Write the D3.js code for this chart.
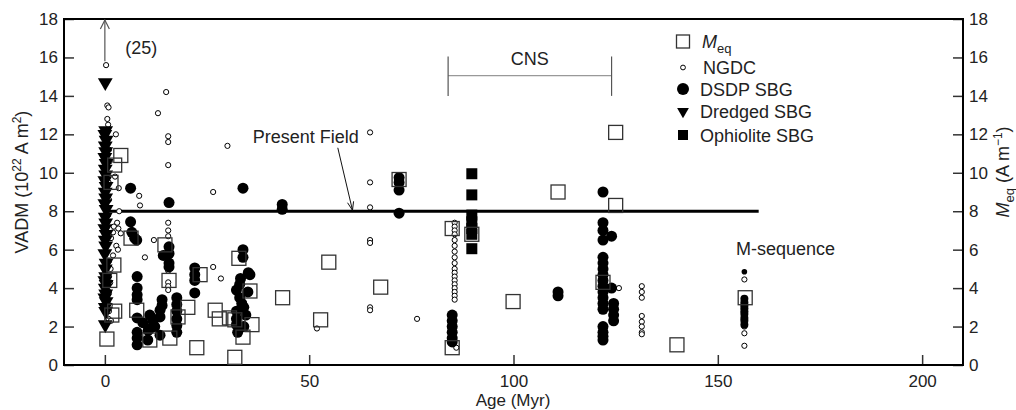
<!DOCTYPE html>
<html>
<head>
<meta charset="utf-8">
<style>
	body { margin: 0; background: #fff; }
	svg { font-family: "Liberation Sans", Arial, sans-serif; }
	.tick text { font-size: 17px; fill: #222; }
	.tick line { stroke: #333; stroke-width: 1.5px; }
</style>
</head>
<body>
<script src="https://cdn.jsdelivr.net/npm/d3@7"></script>
<script>

// Meq squares
var meqAge = [3.9, 2.4, 1.5, 0.5, 2.2, 1.2, 2.4, 1.7, 6.4, 7.8, 11, 14.7, 15.7, 15.9, 17.9, 20.3, 22.5, 23.3, 27, 28,
	32.8, 31.8, 31.8, 35.5, 36, 33.8, 30.5, 43.5, 54.8, 52.8, 67.5, 72, 85, 89.8, 99.9, 110.9, 125, 125, 85, 121.9, 140, 156.7];
var meqVal = [10.9, 10.4, 9.5, 1.35, 5.2, 4.4, 2.8, 2.6, 6.6, 2.85, 1.3, 6.25, 4.4, 1.4, 2.5, 3.0, 0.9, 4.7, 2.85, 2.4,
	5.55, 2.35, 0.4, 3.85, 2.1, 1.45, 2.45, 3.5, 5.35, 2.35, 4.05, 9.65, 7.1, 6.8, 3.3, 9.0, 12.1, 8.3, 0.9, 4.3, 1.05, 3.5];

// NGDC small open circles
var ngdcAge = [0.3, 0.6, 0.9, 0.6, 0.8, 2.7, 1.0, 1.2, 2.5, 0.9, 3.4, 1.0, 3.5, 0.8, 3.0, 2.2, 3.3, 2.0, 3.9, 1.5, 2.8, 3.2,
	2.0, 1.0, 1.4, 1.0, 1.3, 1.0, 0.8, 1.2, 1.0, 0.9, 1.5,
	15.0, 13.0, 15.5, 15.5, 15.5, 30.0, 8.4, 8.6, 26.5, 9.8, 12.0, 26.5, 28.4, 15.5, 15.5, 15.5, 15.5, 15.5, 15.5, 15.5,
	64.9, 64.9, 64.9, 64.9, 64.9, 64.9, 64.9, 76.4, 51.9,
	85.6, 85.6, 85.6, 85.6, 85.6, 85.6, 85.6, 85.6, 85.6, 85.6, 85.6, 85.6, 85.6, 85.6, 85.6, 85.6, 85.6, 85.6, 86.0,
	125.8, 131.4, 131.4, 131.4, 131.4, 131.4, 131.4, 131.4, 131.4,
	156.5, 156.5, 156.5, 156.5, 156.5, 156.5];
var ngdcVal = [15.6, 13.5, 13.4, 12.8, 12.5, 12.0, 11.2, 10.6, 9.8, 9.5, 9.2, 8.6, 8.0, 7.8, 7.4, 7.2, 7.1, 6.9, 6.85, 6.6, 6.2, 6.0,
	5.7, 5.4, 5.0, 4.6, 4.3, 3.8, 3.4, 3.1, 2.8, 2.4, 2.3,
	14.2, 13.1, 11.9, 11.6, 10.4, 11.4, 8.8, 8.3, 9.0, 5.6, 6.5, 5.1, 4.5, 7.4, 7.0, 6.7, 4.9, 4.3, 4.1, 3.9,
	12.1, 9.5, 8.2, 6.5, 6.35, 3.0, 2.85, 2.4, 1.9,
	7.4, 7.2, 7.0, 6.8, 6.5, 6.2, 5.9, 5.6, 5.3, 5.0, 4.8, 4.6, 4.4, 4.2, 4.0, 3.8, 3.6, 3.4, 0.9,
	4.0, 4.1, 3.8, 3.5, 2.55, 2.25, 2.0, 1.7, 1.6,
	4.45, 2.5, 2.2, 2.0, 1.65, 1.0];

// DSDP SBG filled circles
var dsdpAge = [6.3, 15.7, 33.8, 6.3, 6.6, 7.3, 7.8,
	7.9, 7.9, 7.9, 7.9, 7.9, 7.9, 7.9, 7.9,
	9.3, 10.6, 11.0, 11.8, 12.2, 13.5, 13.5, 14.0, 14.0, 13.5, 10.5, 11.0,
	15.7, 15.7, 15.7, 15.7, 14.3,
	17.6, 17.6, 17.6, 17.6, 17.6, 17.6,
	22, 22, 22, 22,
	33.8, 33.8, 33.2, 35.1, 35.5, 32.2, 33, 33.5, 32.2, 32.2, 32.2, 32.5, 34, 34.5, 34, 35, 33,
	43.4, 43.4,
	72, 72, 72, 72,
	85, 85, 85, 85, 85, 85,
	110.9, 110.9,
	121.9, 121.9, 121.9, 124, 121.9, 121.9, 121.9, 121.9, 121.9, 121.9, 124, 121.9, 121.9, 121.9, 121.9, 124.5, 124.5,
	124.5, 124.5, 121.9, 121.9, 121.9, 121.9, 121.9];
var dsdpVal = [9.2, 8.45, 9.2, 7.45, 6.9, 6.6, 6.5,
	4.6, 4.0, 3.65, 3.4, 2.45, 1.7, 1.4, 1.05,
	2.2, 1.8, 2.6, 2.3, 2.0, 2.5, 1.55, 3.1, 3.4, 2.85, 1.3, 1.9,
	6.15, 5.8, 5.3, 5.1, 5.7,
	3.5, 3.15, 2.8, 2.4, 2.05, 1.7,
	5.05, 4.7, 4.4, 3.75,
	6.0, 5.6, 4.5, 4.8, 4.7, 3.9, 3.5, 3.2, 2.8, 2.4, 2.1, 1.7, 2.0, 2.6, 3.0, 3.8, 4.2,
	8.35, 8.1,
	9.75, 9.5, 9.1, 7.9,
	2.6, 2.3, 2.0, 1.7, 1.4, 1.2,
	3.8, 3.6,
	9.0, 7.4, 7.0, 6.7, 6.5, 5.6, 5.3, 5.0, 4.7, 4.4, 4.0, 4.1, 3.8, 3.5, 3.2, 3.2, 2.9,
	2.6, 2.3, 2.9, 2.0, 1.7, 1.5, 1.3];

// M-sequence DSDP (smaller marks)
var mseqAge = [156.5, 156.5, 156.5, 156.5, 156.5, 156.5, 156.5, 156.5, 156.5];
var mseqVal = [3.45, 3.25, 3.1, 2.95, 2.8, 2.65, 2.45, 2.3, 2.1];
var mseqTopAge = 156.5, mseqTopVal = 4.85;

// Dredged SBG triangles
var dredgedAge = [0.1, 0.2, 0.0, 0.3, 0.1, 0.2, 0.0, 0.3, 0.1, 0.2, 0.0, 0.3, 0.1, 0.2, 0.0, 0.3, 0.1, 0.2,
	0.0, 0.3, 0.1, 0.2, 0.0, 0.3, 0.1, 0.2, 0.0, 0.3, 0.1, 0.2, 0.0, 0.3, 0.1, 0.2, 0.1];
var dredgedVal = [14.7, 12.2, 12.0, 11.7, 11.4, 11.1, 10.8, 10.5, 10.2, 9.9, 9.6, 9.3, 9.0, 8.7, 8.4, 8.1, 7.7, 7.4,
	7.1, 6.8, 6.5, 6.2, 5.8, 5.3, 5.0, 4.6, 4.4, 4.2, 4.0, 3.7, 3.5, 3.3, 3.0, 2.8, 2.1];

// Ophiolite SBG filled squares
var ophAge = [89.8, 89.8, 89.8, 89.8, 89.8, 89.8, 89.8];
var ophVal = [9.95, 8.85, 7.8, 7.45, 7.1, 6.8, 6.05];

var xTicks = [0, 50, 100, 150, 200];
var yTicks = [0, 2, 4, 6, 8, 10, 12, 14, 16, 18];
var presentField = 8;
var presentFieldRange = [0, 160];
var cnsRange = [84, 124];

var width = 1016, height = 410;
var plotLeft = 64, plotRight = 963, plotTop = 19, plotBottom = 365;

var x = d3.scaleLinear().domain([-10, 210]).range([plotLeft, plotRight]);
var y = d3.scaleLinear().domain([0, 18]).range([plotBottom, plotTop]);

var svg = d3.select("body").append("svg")
	.attr("width", width)
	.attr("height", height);

// axes with inward ticks
svg.append("g")
	.attr("transform", "translate(" + plotLeft + ",0)")
	.call(d3.axisLeft(y).tickValues(yTicks).tickSize(-10).tickPadding(6))
	.call(function(g) { g.select(".domain").remove(); });

svg.append("g")
	.attr("transform", "translate(" + plotRight + ",0)")
	.call(d3.axisRight(y).tickValues(yTicks).tickSize(-10).tickPadding(6))
	.call(function(g) { g.select(".domain").remove(); });

svg.append("g")
	.attr("transform", "translate(0," + plotBottom + ")")
	.call(d3.axisBottom(x).tickValues(xTicks).tickSize(-10).tickPadding(10))
	.call(function(g) { g.select(".domain").remove(); });

// frame
svg.append("rect")
	.attr("x", plotLeft).attr("y", plotTop)
	.attr("width", plotRight - plotLeft).attr("height", plotBottom - plotTop)
	.attr("fill", "none").attr("stroke", "#000").attr("stroke-width", 2);

// present field line
svg.append("line")
	.attr("x1", x(presentFieldRange[0])).attr("x2", x(presentFieldRange[1]))
	.attr("y1", y(presentField)).attr("y2", y(presentField))
	.attr("stroke", "#000").attr("stroke-width", 3);

var plot = svg.append("g");

// NGDC
plot.selectAll("circle.ngdc")
	.data(d3.range(ngdcAge.length))
	.enter().append("circle")
	.attr("class", "ngdc")
	.attr("cx", function(i) { return x(ngdcAge[i]); })
	.attr("cy", function(i) { return y(ngdcVal[i]); })
	.attr("r", 2.6)
	.attr("fill", "#fff").attr("stroke", "#000").attr("stroke-width", 1);

// DSDP
plot.selectAll("circle.dsdp")
	.data(d3.range(dsdpAge.length))
	.enter().append("circle")
	.attr("class", "dsdp")
	.attr("cx", function(i) { return x(dsdpAge[i]); })
	.attr("cy", function(i) { return y(dsdpVal[i]); })
	.attr("r", 5.5)
	.attr("fill", "#000");

plot.selectAll("circle.mseq")
	.data(d3.range(mseqAge.length))
	.enter().append("circle")
	.attr("class", "mseq")
	.attr("cx", function(i) { return x(mseqAge[i]); })
	.attr("cy", function(i) { return y(mseqVal[i]); })
	.attr("r", 4)
	.attr("fill", "#000");

plot.append("circle")
	.attr("cx", x(mseqTopAge)).attr("cy", y(mseqTopVal))
	.attr("r", 2.8).attr("fill", "#000");

// Dredged triangles
var tri = d3.symbol().type(d3.symbolTriangle).size(95);
plot.selectAll("path.dredged")
	.data(d3.range(dredgedAge.length))
	.enter().append("path")
	.attr("class", "dredged")
	.attr("d", tri)
	.attr("transform", function(i) { return "translate(" + x(dredgedAge[i]) + "," + y(dredgedVal[i]) + ") rotate(180)"; })
	.attr("fill", "#000");

// Ophiolite
plot.selectAll("rect.oph")
	.data(d3.range(ophAge.length))
	.enter().append("rect")
	.attr("class", "oph")
	.attr("x", function(i) { return x(ophAge[i]) - 5.5; })
	.attr("y", function(i) { return y(ophVal[i]) - 5.5; })
	.attr("width", 11).attr("height", 11)
	.attr("fill", "#000");

// Meq squares
plot.selectAll("rect.meq")
	.data(d3.range(meqAge.length))
	.enter().append("rect")
	.attr("class", "meq")
	.attr("x", function(i) { return x(meqAge[i]) - 7; })
	.attr("y", function(i) { return y(meqVal[i]) - 7; })
	.attr("width", 14).attr("height", 14)
	.attr("fill", "none").attr("stroke", "#333").attr("stroke-width", 1.3);

// arrow at age 0 (25)
svg.append("line")
	.attr("x1", x(0)).attr("x2", x(0))
	.attr("y1", y(18) + 1).attr("y2", y(15.8))
	.attr("stroke", "#555").attr("stroke-width", 1.2);
svg.append("path")
	.attr("d", "M" + (x(0) - 4.5) + "," + (y(18) + 10) + "L" + x(0) + "," + (y(18) + 1) + "L" + (x(0) + 4.5) + "," + (y(18) + 10))
	.attr("fill", "none").attr("stroke", "#555").attr("stroke-width", 1.2);
svg.append("text")
	.attr("x", x(5)).attr("y", y(16.2))
	.style("font-size", "18px").attr("fill", "#222")
	.text("(25)");

// Present Field annotation
var pfx1 = x(57.0), pfy1 = y(11.3), pfx2 = x(60.6), pfy2 = y(8.05);
svg.append("line")
	.attr("x1", pfx1).attr("y1", pfy1).attr("x2", pfx2).attr("y2", pfy2)
	.attr("stroke", "#111").attr("stroke-width", 1);
var ang = Math.atan2(pfy2 - pfy1, pfx2 - pfx1);
svg.append("path")
	.attr("d", "M" + (pfx2 - 9 * Math.cos(ang - 0.35)) + "," + (pfy2 - 9 * Math.sin(ang - 0.35)) +
		"L" + pfx2 + "," + pfy2 +
		"L" + (pfx2 - 9 * Math.cos(ang + 0.35)) + "," + (pfy2 - 9 * Math.sin(ang + 0.35)))
	.attr("fill", "none").attr("stroke", "#111").attr("stroke-width", 1);
svg.append("text")
	.attr("x", x(36.2)).attr("y", y(11.56))
	.style("font-size", "18px").attr("fill", "#222")
	.text("Present Field");

// CNS bracket
svg.append("line")
	.attr("x1", x(cnsRange[0])).attr("x2", x(cnsRange[1]))
	.attr("y1", y(15.05)).attr("y2", y(15.05))
	.attr("stroke", "#999").attr("stroke-width", 1.2);
cnsRange.forEach(function(a) {
	svg.append("line")
		.attr("x1", x(a)).attr("x2", x(a))
		.attr("y1", y(16.05)).attr("y2", y(14.0))
		.attr("stroke", "#555").attr("stroke-width", 1.2);
});
svg.append("text")
	.attr("x", x((cnsRange[0] + cnsRange[1]) / 2)).attr("y", y(15.6))
	.attr("text-anchor", "middle")
	.style("font-size", "18px").attr("fill", "#222")
	.text("CNS");

svg.append("text")
	.attr("x", 736).attr("y", 255)
	.style("font-size", "18px").attr("fill", "#222")
	.text("M-sequence");

// legend
var lg = svg.append("g").attr("transform", "translate(683,0)");
var rows = [41.5, 67.5, 89, 111.5, 135];
lg.append("rect").attr("x", -6.5).attr("y", rows[0] - 6.5).attr("width", 13).attr("height", 13)
	.attr("fill", "none").attr("stroke", "#333").attr("stroke-width", 1.3);
lg.append("circle").attr("cx", 0).attr("cy", rows[1]).attr("r", 2.4)
	.attr("fill", "#fff").attr("stroke", "#000");
lg.append("circle").attr("cx", 0).attr("cy", rows[2]).attr("r", 6).attr("fill", "#000");
lg.append("path").attr("d", d3.symbol().type(d3.symbolTriangle).size(60))
	.attr("transform", "translate(0," + rows[3] + ") rotate(180)").attr("fill", "#000");
lg.append("rect").attr("x", -5).attr("y", rows[4] - 5).attr("width", 10).attr("height", 10).attr("fill", "#000");

var meqT = lg.append("text").attr("x", 19).attr("y", rows[0] + 6)
	.style("font-size", "18px").attr("fill", "#222");
meqT.append("tspan").style("font-style", "italic").text("M");
meqT.append("tspan").attr("dy", 5).style("font-size", "13px").text("eq");
var names = ["NGDC", "DSDP SBG", "Dredged SBG", "Ophiolite SBG"];
names.forEach(function(n, i) {
	lg.append("text").attr("x", i == 0 ? 20 : 17).attr("y", rows[i + 1] + 6.5)
		.style("font-size", "18px").attr("fill", "#222")
		.text(n);
});

// axis titles
svg.append("text")
	.attr("transform", "translate(513,406)")
	.attr("text-anchor", "middle")
	.style("font-size", "17px").attr("fill", "#222")
	.text("Age (Myr)");

var yl = svg.append("text")
	.attr("transform", "translate(28,182) rotate(-90)")
	.attr("text-anchor", "middle")
	.style("font-size", "18px").attr("fill", "#222");
yl.append("tspan").text("VADM (10");
yl.append("tspan").attr("dy", -7).style("font-size", "12px").text("22");
yl.append("tspan").attr("dy", 7).text(" A m");
yl.append("tspan").attr("dy", -7).style("font-size", "12px").text("2");
yl.append("tspan").attr("dy", 7).text(")");

var yr = svg.append("text")
	.attr("transform", "translate(1009,172) rotate(-90)")
	.attr("text-anchor", "middle")
	.style("font-size", "18px").attr("fill", "#222");
yr.append("tspan").style("font-style", "italic").text("M");
yr.append("tspan").attr("dy", 5).style("font-size", "13px").text("eq");
yr.append("tspan").attr("dy", -5).text(" (A m");
yr.append("tspan").attr("dy", -7).style("font-size", "12px").text("\u22121");
yr.append("tspan").attr("dy", 7).text(")");

</script>
</body>
</html>
